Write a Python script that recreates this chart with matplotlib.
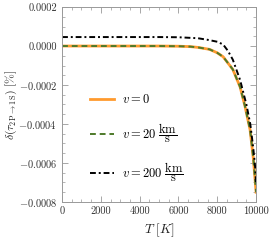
import matplotlib
matplotlib.use("Agg")
import matplotlib.pyplot as plt
from matplotlib.ticker import MultipleLocator, FuncFormatter

plt.rcParams['font.family'] = ['cmr10']
plt.rcParams['mathtext.fontset'] = 'cm'
plt.rcParams['axes.formatter.use_mathtext'] = True

# data
T_v0 = [0, 1000, 2000, 3000, 4000, 5000, 6000, 6600, 7000, 7600, 8000, 8300, 8800, 9175, 9430, 9690, 9860, 10000]
d_v0 = [0, 0, 0, 0, 0, 0, -0.000001, -0.000003, -0.000007, -0.000017, -0.000035, -0.000055,
        -0.00012, -0.00021, -0.00031, -0.00043, -0.00058, -0.00075]
T_v20 = T_v0
d_v20 = d_v0
T_v200 = [0, 1000, 2000, 3000, 4000, 5000, 6000, 7000, 7500, 8000, 8300, 8550, 8800, 9175, 9500, 9700, 9850, 9950, 10000]
d_v200 = [0.000046, 0.000046, 0.000046, 0.000046, 0.000046, 0.000046, 0.000045, 0.000040, 0.000032,
          0.000022, 0.000008, -0.000025, -0.00007, -0.000174, -0.0003, -0.0004, -0.00052, -0.00062, -0.00071]

labels = [r"$v = 0$",
          r"$v = 20\ \dfrac{\mathrm{km}}{\mathrm{s}}$",
          r"$v = 200\ \dfrac{\mathrm{km}}{\mathrm{s}}$"]
xticks = [0, 2000, 4000, 6000, 8000, 10000]
yticks = [-0.0008, -0.0006, -0.0004, -0.0002, 0.0000, 0.0002]

fig = plt.figure(figsize=(2.71, 2.43), dpi=100)
ax = fig.add_axes([0.229, 0.169, 0.716, 0.802])

ax.plot(T_v0, d_v0, color='#ff9a2e', lw=2.0, label=labels[0])
ax.plot(T_v20, d_v20, color='#4e7a2a', lw=1.4, ls=(0, (3, 2)), label=labels[1])
ax.plot(T_v200, d_v200, color='black', lw=1.4, ls=(0, (3, 1.5, 1, 1.5)), label=labels[2])

ax.set_xlim(0, 10000)
ax.set_ylim(-0.0008, 0.0002)
ax.set_xticks(xticks)
ax.set_yticks(yticks)
ax.xaxis.set_major_formatter(FuncFormatter(lambda v, p: f"{int(v)}"))
ax.yaxis.set_major_formatter(FuncFormatter(lambda v, p: ("$-$" if v < -1e-12 else "") + f"{abs(v):.4f}"))
ax.xaxis.set_minor_locator(MultipleLocator(500))
ax.yaxis.set_minor_locator(MultipleLocator(0.00005))
ax.tick_params(which='both', direction='in', top=True, right=True, colors='#999999',
               labelcolor='#333333', labelsize=7.5)
ax.tick_params(which='major', length=4, width=0.6)
ax.tick_params(which='minor', length=2, width=0.5)
for s in ax.spines.values():
    s.set_color('#999999')
    s.set_linewidth(0.7)

ax.set_xlabel(r"$T\ [K]$", fontsize=9.5, color='#222222', labelpad=4)
ax.set_ylabel(r"$\delta(\tau_{2\mathrm{P}\to 1\mathrm{S}})\ [\%]$", fontsize=8.5, color='#222222')
ax.yaxis.set_label_coords(-0.222, 0.5)

leg = ax.legend(loc='upper left', bbox_to_anchor=(0.12, 0.585), frameon=False, fontsize=9,
                handlelength=1.9, labelspacing=1.2, handletextpad=0.6, borderaxespad=0)

fig.savefig("out.png", dpi=100)
